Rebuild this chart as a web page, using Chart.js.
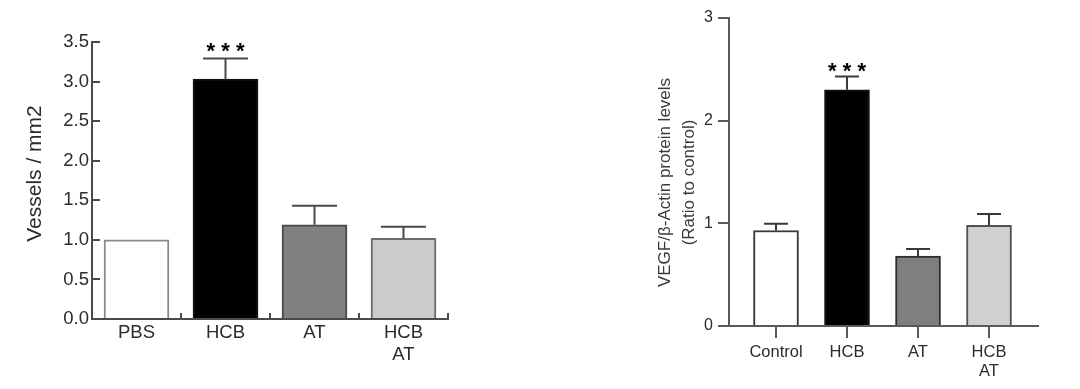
<!DOCTYPE html>
<html><head><meta charset="utf-8">
<script src="https://cdn.jsdelivr.net/npm/chart.js@4.4.1/dist/chart.umd.min.js"></script>
<style>
html,body{margin:0;padding:0;background:#fff;}
#wrap{position:relative;width:1080px;height:389px;overflow:hidden;background:#fff;}
canvas{position:absolute;top:0;}
</style></head><body>
<div id="wrap">
<canvas id="left" width="540" height="389" style="left:0"></canvas>
<canvas id="right" width="540" height="389" style="left:540px"></canvas>
</div>
<script>
// ---------- data ----------
const leftCategories = ['PBS', 'HCB', 'AT', ['HCB', 'AT']];
const leftValues = [1.00, 3.03, 1.19, 1.02];
const leftErrors = [null, 0.26, 0.24, 0.145];
const leftSignificance = ['', '***', '', ''];
const leftYTicks = [0, 0.5, 1.0, 1.5, 2.0, 2.5, 3.0, 3.5];
const leftTitle = ['Vessels / mm2'];
const leftFill = ['#ffffff', '#000000', '#808080', '#cbcbcb'];
const leftBorder = ['#8a8a8a', '#111111', '#4a4a4a', '#6a6a6a'];

const rightCategories = ['Control', 'HCB', 'AT', ['HCB', 'AT']];
const rightValues = [0.93, 2.30, 0.68, 0.98];
const rightErrors = [0.065, 0.13, 0.07, 0.11];
const rightSignificance = ['', '***', '', ''];
const rightYTicks = [0, 1, 2, 3];
const rightTitle = ['VEGF/β-Actin protein levels', '(Ratio to control)'];
const rightFill = ['#ffffff', '#000000', '#7f7f7f', '#d0d0d0'];
const rightBorder = ['#3a3a3a', '#111111', '#2e2e2e', '#505050'];

const FONT = '"Liberation Sans", Arial, Helvetica, sans-serif';

// ---------- plugins ----------
const errorBarPlugin = {
  id: 'errorBars',
  afterDatasetsDraw(chart, args, o) {
    const {ctx} = chart;
    const y = chart.scales.y;
    const meta = chart.getDatasetMeta(0);
    ctx.save();
    ctx.strokeStyle = o.color;
    ctx.lineWidth = o.width;
    meta.data.forEach((bar, i) => {
      const e = o.errors[i];
      if (e == null) return;
      const top = y.getPixelForValue(o.values[i] + e);
      ctx.beginPath();
      ctx.moveTo(bar.x, bar.y);
      ctx.lineTo(bar.x, top);
      ctx.moveTo(bar.x - o.cap / 2, top);
      ctx.lineTo(bar.x + o.cap / 2, top);
      ctx.stroke();
      const s = o.sig[i];
      if (s) {
        ctx.fillStyle = '#000';
        ctx.font = o.sigFont;
        ctx.textAlign = 'center';
        ctx.textBaseline = 'alphabetic';
        const m = ctx.measureText('*');
        const off = (m.actualBoundingBoxAscent - m.actualBoundingBoxDescent) / 2;
        const cy = top - o.sigGap;
        ctx.fillText(s.split('').join(' '), bar.x, cy + off);
      }
    });
    ctx.restore();
  }
};

const extrasPlugin = {
  id: 'extras',
  afterDraw(chart, args, o) {
    const {ctx, chartArea} = chart;
    const x = chart.scales.x, y = chart.scales.y;
    ctx.save();
    ctx.strokeStyle = o.tickColor;
    ctx.lineWidth = o.tickWidth;
    if (o.inwardY) {
      o.yTicks.forEach(v => {
        const py = Math.round(y.getPixelForValue(v));
        ctx.beginPath();
        ctx.moveTo(chartArea.left, py);
        ctx.lineTo(chartArea.left + o.inwardY, py);
        ctx.stroke();
      });
    }
    if (o.inwardX) {
      for (let i = 0; i < o.nCat; i++) {
        const px = Math.round(x.getPixelForValue(i + 0.5));
        ctx.beginPath();
        ctx.moveTo(px, chartArea.bottom);
        ctx.lineTo(px, chartArea.bottom - o.inwardX);
        ctx.stroke();
      }
    }
    // axis title
    ctx.fillStyle = o.titleColor;
    ctx.font = o.titleFont;
    ctx.textAlign = 'center';
    ctx.textBaseline = 'middle';
    o.title.forEach((line, i) => {
      ctx.save();
      ctx.translate(o.titleX + i * o.titleLine, o.titleY);
      ctx.rotate(-Math.PI / 2);
      ctx.fillText(line, 0, 0);
      ctx.restore();
    });
    ctx.restore();
  }
};

function makeChart(id, cfg) {
  const data = cfg.values.map((v, i) => ({x: i, y: v}));
  return new Chart(document.getElementById(id), {
    type: 'bar',
    data: {
      datasets: [{
        data,
        backgroundColor: cfg.fill,
        borderColor: cfg.border,
        borderWidth: cfg.barBorder,
        barThickness: cfg.barThickness
      }]
    },
    options: {
      responsive: false,
      animation: false,
      devicePixelRatio: 1,
      layout: {padding: cfg.padding},
      plugins: {
        legend: {display: false},
        tooltip: {enabled: false},
        errorBars: {
          values: cfg.values, errors: cfg.errors, sig: cfg.sig,
          color: cfg.errColor, width: 2, cap: cfg.cap,
          sigFont: cfg.sigFont, sigGap: cfg.sigGap
        },
        extras: cfg.extras
      },
      scales: {
        x: {
          type: 'linear',
          offset: false,
          min: cfg.xMin, max: cfg.xMax,
          afterBuildTicks: s => { s.ticks = cfg.categories.map((c, i) => ({value: i})); },
          afterFit: s => { s.height = cfg.xHeight; },
          ticks: {
            callback: (v) => cfg.categories[v],
            color: '#2b2b2b',
            font: {family: FONT, size: cfg.xFont, lineHeight: cfg.xLine},
            padding: cfg.xPad,
            maxRotation: 0, autoSkip: false
          },
          grid: {
            display: true, offset: false, drawOnChartArea: false,
            drawTicks: cfg.xTickLen > 0, tickLength: cfg.xTickLen,
            color: cfg.axisColor, lineWidth: 2
          },
          border: {display: true, color: cfg.axisColor, width: 2}
        },
        y: {
          min: 0, max: cfg.yMax,
          afterBuildTicks: s => { s.ticks = cfg.yTicks.map(v => ({value: v})); },
          afterFit: s => { s.width = cfg.yWidth; },
          ticks: {
            callback: cfg.yFmt,
            color: '#2b2b2b',
            font: {family: FONT, size: cfg.yFont},
            padding: cfg.yPad
          },
          grid: {
            display: true, drawOnChartArea: false,
            drawTicks: cfg.yTickLen > 0, tickLength: cfg.yTickLen,
            color: cfg.axisColor, lineWidth: 2
          },
          border: {display: true, color: cfg.axisColor, width: 2}
        }
      }
    },
    plugins: [errorBarPlugin, extrasPlugin]
  });
}

makeChart('left', {
  categories: leftCategories, values: leftValues, errors: leftErrors, sig: leftSignificance,
  fill: leftFill, border: leftBorder, barBorder: 2, barThickness: 65,
  padding: {left: 0, top: 42, right: 92, bottom: 0},
  xMin: -0.5, xMax: 3.5, xHeight: 70, xFont: 18.5, xLine: 1.2, xPad: 3, xTickLen: 0,
  yMax: 3.5, yTicks: leftYTicks, yWidth: 92, yFont: 18.5, yPad: 3, yTickLen: 0,
  yFmt: v => v.toFixed(1),
  axisColor: '#4a4a4a', errColor: '#4a4a4a', cap: 45,
  sigFont: 'bold 22px ' + FONT, sigGap: 11.6,
  extras: {
    tickColor: '#4a4a4a', tickWidth: 2, inwardY: 8, inwardX: 6, nCat: 4, yTicks: leftYTicks,
    title: leftTitle, titleFont: '21px ' + FONT, titleColor: '#2b2b2b',
    titleX: 35, titleY: 173.5, titleLine: 0
  }
});

makeChart('right', {
  categories: rightCategories, values: rightValues, errors: rightErrors, sig: rightSignificance,
  fill: rightFill, border: rightBorder, barBorder: 2, barThickness: 45,
  padding: {left: 0, top: 18, right: 42, bottom: 0},
  xMin: -0.662, xMax: 3.690, xHeight: 63, xFont: 16.5, xLine: 1.15, xPad: 5, xTickLen: 12,
  yMax: 3, yTicks: rightYTicks, yWidth: 189, yFont: 16, yPad: 5, yTickLen: 11,
  yFmt: v => String(v),
  axisColor: '#5a5a5a', errColor: '#3a3a3a', cap: 24,
  sigFont: 'bold 22px ' + FONT, sigGap: 8.7,
  extras: {
    tickColor: '#5a5a5a', tickWidth: 2, inwardY: 0, inwardX: 0, nCat: 4, yTicks: rightYTicks,
    title: rightTitle, titleFont: '17px ' + FONT, titleColor: '#3a3a3a',
    titleX: 125, titleY: 182.5, titleLine: 24
  }
});
</script>
</body></html>
